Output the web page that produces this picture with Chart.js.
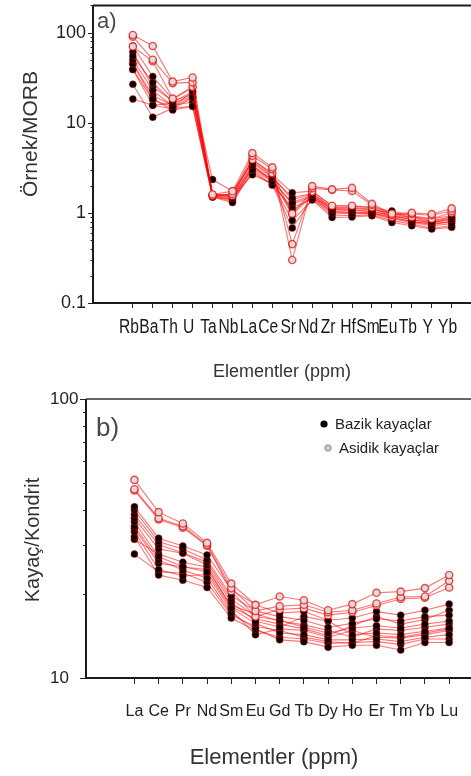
<!DOCTYPE html>
<html>
<head>
<meta charset="utf-8">
<script src="https://cdn.jsdelivr.net/npm/chart.js@4.4.1/dist/chart.umd.min.js"></script>
<style>
  body { margin: 0; background: #fff; width: 471px; height: 776px; overflow: hidden; }
  canvas { position: absolute; left: 0; }
  #chartA { top: 0; }
  #chartB { top: 390px; }
</style>
</head>
<body>
<canvas id="chartA" width="471" height="390"></canvas>
<canvas id="chartB" width="471" height="386"></canvas>
<script>
// element order along the x axes
const spiderEls = ['Rb', 'Ba', 'Th', 'U', 'Ta', 'Nb', 'La', 'Ce', 'Sr', 'Nd', 'Zr', 'Hf', 'Sm', 'Eu', 'Tb', 'Y', 'Yb'];
const reeEls = ['La', 'Ce', 'Pr', 'Nd', 'Sm', 'Eu', 'Gd', 'Tb', 'Dy', 'Ho', 'Er', 'Tm', 'Yb', 'Lu'];

// MORB normalised, one row per sample
const spiderAsidik = [
  [94, 71, 28.6, 31.7, 1.6, 1.74, 4.6, 3.2, 0.30, 1.98, 1.82, 1.89, 1.26, 0.98, 1.0, 0.97, 1.12],
  [90, 50, 27.5, 28, 1.55, 1.62, 4.3, 3.05, 0.45, 1.88, 1.8, 1.75, 1.22, 0.95, 0.97, 0.94, 1.05],
  [70, 48, 18.5, 25, 1.58, 1.55, 3.9, 2.75, 0.98, 1.72, 1.2, 1.2, 1.15, 0.9, 0.9, 0.86, 1.0]
];
const spiderBazik = [
  [71, 32.5, 18.2, 24.6, 1.6, 1.6, 3.9, 2.65, 1.67, 1.74, 1.19, 1.19, 1.14, 1.05, 0.93, 0.86, 0.93],
  [55, 27.9, 16.9, 22, 2.34, 1.74, 3.6, 2.45, 1.47, 1.65, 1.12, 1.12, 1.08, 0.98, 0.88, 0.80, 0.88],
  [50, 22.8, 15.2, 19, 1.55, 1.46, 3.4, 2.24, 1.30, 1.57, 1.08, 1.06, 1.03, 0.95, 0.84, 0.78, 0.84],
  [45, 18.3, 13.8, 15.2, 1.5, 1.3, 3.0, 2.03, 1.14, 1.45, 1.0, 0.98, 0.98, 0.86, 0.78, 0.72, 0.76],
  [39, 15.6, 16.5, 19.5, 1.58, 1.5, 2.65, 2.1, 0.82, 1.39, 0.89, 0.9, 0.93, 0.78, 0.72, 0.66, 0.69],
  [26.7, 11.5, 14.5, 15.2, 1.52, 1.35, 2.8, 2.05, 0.68, 1.42, 0.95, 0.93, 0.95, 0.82, 0.75, 0.68, 0.72],
  [18.3, 15.6, 14.2, 19, 1.55, 1.4, 3.2, 2.3, 1.25, 1.5, 1.04, 1.02, 1.0, 0.9, 0.8, 0.74, 0.8],
  [61, 25, 17.5, 20.5, 1.6, 1.55, 3.7, 2.55, 1.4, 1.62, 1.15, 1.15, 1.1, 1.0, 0.9, 0.82, 0.9],
  [45, 20, 15.5, 17, 1.5, 1.42, 3.1, 2.2, 1.05, 1.5, 1.02, 1.0, 1.0, 0.88, 0.8, 0.76, 0.8],
  [39, 18, 15, 22, 1.6, 1.5, 3.3, 2.35, 0.95, 1.55, 1.1, 1.08, 1.05, 0.92, 0.84, 0.78, 0.86]
];

// chondrite normalised REE
const reeAsidik = [
  [51.3, 39.3, 35.8, 30.5, 21.8, 18.3, 19.6, 19.0, 17.5, 18.4, 20.2, 20.4, 21.0, 23.4],
  [47.5, 37.4, 35.0, 30.0, 21.0, 17.4, 18.1, 18.3, 17.2, 17.5, 18.5, 19.5, 19.6, 22.3],
  [47.0, 37.0, 34.6, 29.8, 20.5, 16.6, 17.6, 17.8, 16.8, 17.2, 18.2, 19.2, 19.4, 21.1]
];
const reeBazik = [
  [41.1, 31.7, 29.7, 27.6, 20.7, 18.3, 17.1, 17.3, 16.1, 16.4, 17.3, 16.8, 17.5, 18.4],
  [40.0, 30.8, 29.0, 26.5, 19.7, 17.4, 16.6, 16.1, 15.2, 15.7, 16.3, 16.0, 16.6, 16.8],
  [38.5, 30.0, 28.1, 26.0, 19.2, 16.6, 16.1, 15.2, 14.5, 15.1, 15.4, 15.1, 15.6, 16.0],
  [37.4, 29.0, 28.0, 25.4, 18.7, 16.0, 15.2, 16.6, 16.0, 14.3, 14.5, 14.3, 14.7, 15.1],
  [36.3, 27.2, 25.1, 24.0, 17.8, 15.7, 14.5, 14.3, 13.7, 13.7, 13.8, 13.5, 14.0, 14.3],
  [35.0, 26.5, 24.4, 22.8, 17.1, 15.0, 13.7, 13.5, 12.9, 13.1, 13.1, 12.6, 13.4, 13.4],
  [34.4, 25.8, 25.0, 24.5, 18.2, 17.0, 16.0, 15.5, 14.8, 14.0, 15.0, 14.8, 15.2, 15.6],
  [33.5, 24.5, 23.2, 23.5, 17.5, 14.3, 15.0, 14.8, 14.0, 14.8, 14.0, 13.9, 14.3, 14.8],
  [32.1, 23.4, 22.4, 21.1, 16.4, 14.8, 14.0, 13.8, 13.3, 13.4, 13.5, 13.2, 13.8, 13.8],
  [31.4, 27.8, 26.0, 25.0, 18.0, 16.3, 15.6, 15.0, 14.2, 15.4, 16.6, 15.6, 16.2, 17.5],
  [27.8, 24.0, 23.8, 22.0, 16.8, 15.3, 14.8, 14.0, 13.5, 13.3, 14.2, 14.0, 14.5, 15.0]
];

const spiderTicks = [0.1, 1, 10, 100];
const reeTicks = [10, 100];

const FONT = "'Liberation Sans', Arial, sans-serif";

// asidik samples first so their grey dots sit on top
function makeSets(asidik, bazik) {
  const line = 'rgba(255,0,0,0.55)';
  const grey = asidik.map(r => ({
    data: r.map((v, i) => ({ x: i, y: v })),
    borderColor: line, borderWidth: 1.1,
    pointRadius: 3.6, pointBorderWidth: 1.4,
    pointBackgroundColor: '#dcdcdc', pointBorderColor: 'rgba(240,0,0,0.7)'
  }));
  const black = bazik.map(r => ({
    data: r.map((v, i) => ({ x: i, y: v })),
    borderColor: line, borderWidth: 1.1,
    pointRadius: 3.5, pointBorderWidth: 1,
    pointBackgroundColor: '#000', pointBorderColor: 'rgba(255,0,0,0.45)'
  }));
  return grey.concat(black);
}

// frame, log minor ticks, condensed element labels, titles and legend
const deco = {
  id: 'deco',
  afterDraw(chart, args, o) {
    const { ctx, chartArea: a, scales } = chart;
    const y = scales.y;
    ctx.save();
    ctx.strokeStyle = '#222';
    ctx.lineWidth = 1;
    const d0 = Math.floor(Math.log10(y.min)), d1 = Math.ceil(Math.log10(y.max));
    for (let d = d0; d <= d1; d++) {
      for (let m = 1; m < 10; m++) {
        const v = m * Math.pow(10, d);
        if (v < y.min * 0.999 || v > y.max * 1.001) continue;
        const py = Math.round(y.getPixelForValue(v)) + 0.5;
        const len = m === 1 ? o.major : o.minor;
        ctx.beginPath(); ctx.moveTo(a.left - len, py); ctx.lineTo(a.left, py); ctx.stroke();
      }
    }
    // axes box, right side runs off the page
    ctx.lineWidth = 2;
    ctx.strokeStyle = o.topColor;
    ctx.beginPath(); ctx.moveTo(a.left, a.top); ctx.lineTo(chart.width, a.top); ctx.stroke();
    ctx.strokeStyle = '#1a1a1a';
    ctx.beginPath();
    ctx.moveTo(a.left, a.top); ctx.lineTo(a.left, a.bottom); ctx.lineTo(chart.width, a.bottom);
    ctx.stroke();

    ctx.textBaseline = 'middle';
    ctx.textAlign = 'center';
    if (o.narrowLabels) {
      const n = o.narrowLabels;
      ctx.fillStyle = '#1a1a1a';
      ctx.font = n.size + 'px ' + FONT;
      n.labels.forEach((lab, i) => {
        ctx.save();
        ctx.translate(scales.x.getPixelForValue(i) + n.dx, n.y);
        ctx.scale(n.squeeze, 1);
        ctx.fillText(lab, 0, 0);
        ctx.restore();
      });
    }

    ctx.fillStyle = '#333';
    ctx.font = o.xTitle.size + 'px ' + FONT;
    ctx.fillText('Elementler (ppm)', o.xTitle.x, o.xTitle.y);
    ctx.save();
    ctx.translate(o.yTitle.x, o.yTitle.y);
    ctx.rotate(-Math.PI / 2);
    ctx.font = o.yTitle.size + 'px ' + FONT;
    ctx.fillText(o.yTitle.text, 0, 0);
    ctx.restore();

    ctx.fillStyle = '#4a4a4a';
    ctx.textAlign = 'left';
    ctx.font = o.tag.size + 'px ' + FONT;
    ctx.fillText(o.tag.text, o.tag.x, o.tag.y);

    if (o.legend) {
      const L = o.legend;
      ctx.fillStyle = '#000';
      ctx.beginPath(); ctx.arc(L.x, L.y, 3.6, 0, Math.PI * 2); ctx.fill();
      ctx.fillStyle = '#ccc'; ctx.strokeStyle = '#888'; ctx.lineWidth = 1;
      ctx.beginPath(); ctx.arc(L.x + 4, L.y + L.gap, 3.2, 0, Math.PI * 2); ctx.fill(); ctx.stroke();
      ctx.fillStyle = '#222';
      ctx.font = '15px ' + FONT;
      ctx.fillText('Bazik kayaçlar', L.x + 11, L.y + 1);
      ctx.fillText('Asidik kayaçlar', L.x + 15, L.y + L.gap + 1);
    }
    ctx.restore();
  }
};

function noPad(s) { s.paddingTop = 0; s.paddingBottom = 0; s.paddingLeft = 0; s.paddingRight = 0; }

// a) MORB normalised spider diagram
new Chart(document.getElementById('chartA'), {
  type: 'line',
  data: { datasets: makeSets(spiderAsidik, spiderBazik) },
  options: {
    responsive: false, animation: false,
    layout: { padding: { top: 2, left: 0, right: 0, bottom: 0 } },
    elements: { line: { tension: 0 } },
    plugins: {
      legend: { display: false }, tooltip: { enabled: false },
      deco: {
        major: 5, minor: 2.5, topColor: '#1a1a1a',
        narrowLabels: { labels: spiderEls, size: 19.5, squeeze: 0.8, dx: -4, y: 328 },
        xTitle: { x: 282, y: 372, size: 18 },
        yTitle: { x: 31, y: 134, size: 21, text: 'Örnek/MORB' },
        tag: { x: 97, y: 22, size: 22, text: 'a)' }
      }
    },
    scales: {
      x: {
        type: 'linear', min: -2, max: 16.7,
        afterBuildTicks: s => { s.ticks = spiderEls.map((e, i) => ({ value: i })); },
        afterFit: s => { s.height = 87; noPad(s); },
        grid: { drawOnChartArea: false, tickLength: 5, color: '#222', lineWidth: 1 },
        border: { display: false },
        ticks: { display: false }
      },
      y: {
        type: 'logarithmic', min: 0.1, max: 200,
        afterBuildTicks: s => { s.ticks = spiderTicks.map(v => ({ value: v })); },
        afterFit: s => { s.width = 93; noPad(s); },
        grid: { display: false, drawTicks: false },
        border: { display: false },
        ticks: {
          autoSkip: false, padding: 7, color: '#222',
          font: { family: FONT, size: 18 },
          callback: v => String(v)
        }
      }
    }
  },
  plugins: [deco]
});

// b) chondrite normalised REE pattern
new Chart(document.getElementById('chartB'), {
  type: 'line',
  data: { datasets: makeSets(reeAsidik, reeBazik) },
  options: {
    responsive: false, animation: false,
    layout: { padding: { top: 9, left: 50, right: 0, bottom: 0 } },
    elements: { line: { tension: 0 } },
    plugins: {
      legend: { display: false }, tooltip: { enabled: false },
      deco: {
        major: 6, minor: 3, topColor: '#666',
        xTitle: { x: 274, y: 368, size: 22 },
        yTitle: { x: 33, y: 150, size: 20, text: 'Kayaç/Kondrit' },
        tag: { x: 96, y: 39, size: 26, text: 'b)' },
        legend: { x: 324, y: 34, gap: 24 }
      }
    },
    scales: {
      x: {
        type: 'linear', min: -2, max: 13.68,
        afterBuildTicks: s => { s.ticks = reeEls.map((e, i) => ({ value: i })); },
        afterFit: s => { s.height = 98; noPad(s); },
        grid: { drawOnChartArea: false, tickLength: 6, color: '#222', lineWidth: 1 },
        border: { display: false },
        ticks: {
          autoSkip: false, maxRotation: 0, padding: 18,
          color: '#222', font: { family: FONT, size: 16 },
          callback: v => reeEls[v]
        }
      },
      y: {
        type: 'logarithmic', min: 10, max: 100,
        afterBuildTicks: s => { s.ticks = reeTicks.map(v => ({ value: v })); },
        afterFit: s => { s.width = 36; noPad(s); },
        grid: { display: false, drawTicks: false },
        border: { display: false },
        ticks: {
          autoSkip: false, crossAlign: 'far', color: '#222',
          font: { family: FONT, size: 17 },
          callback: v => String(v)
        }
      }
    }
  },
  plugins: [deco]
});
</script>
</body>
</html>
